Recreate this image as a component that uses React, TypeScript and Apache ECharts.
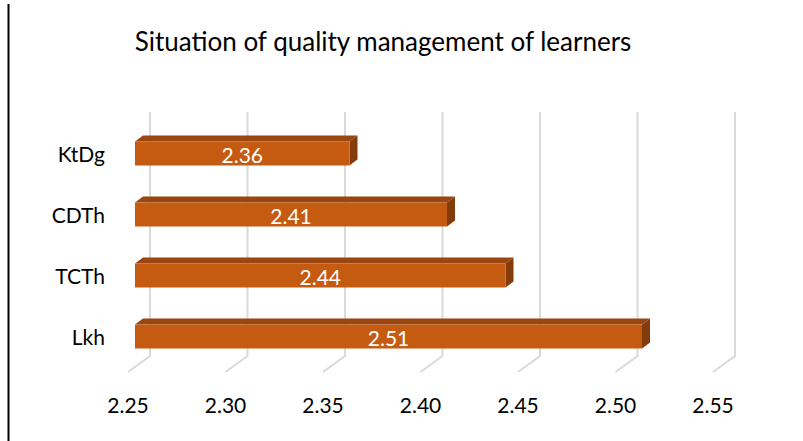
import React, { useEffect, useRef } from "react";
import * as echarts from "echarts";

const TITLE = "Situation of quality management of learners";
const categories = ["KtDg", "CDTh", "TCTh", "Lkh"];
const scores = [2.36, 2.41, 2.44, 2.51];
const axisMin = 2.25;
const axisMax = 2.55;
const axisStep = 0.05;
const tickValues = [2.25, 2.3, 2.35, 2.4, 2.45, 2.5, 2.55];

const FONT = "Lato, 'Open Sans', sans-serif";
const FRONT = "#C55A11";
const TOP = "#9A4611";
const SIDE = "#843C0C";
const GRID = "#D9D9D9";

// oblique 3D offsets (px)
const WALL_DX = 22;
const WALL_DY = -16;
const BAR_DX = 7;
const BAR_DY = 0;
const DEPTH_DX = 8;
const DEPTH_DY = -6;
const BAR_H = 24;

export default function App() {
  const ref = useRef<HTMLDivElement>(null);

  useEffect(() => {
    if (!ref.current) return;
    const chart = echarts.init(ref.current, undefined, { renderer: "svg" });

    const option: any = {
      animation: false,
      backgroundColor: "#ffffff",
      title: {
        text: TITLE,
        left: 378,
        top: 23,
        textAlign: "center",
        textStyle: { fontFamily: FONT, fontSize: 26, fontWeight: "normal", color: "#000" },
      },
      grid: { left: 128, top: 123, width: 585, height: 244, containLabel: false },
      xAxis: {
        type: "value",
        min: axisMin,
        max: axisMax,
        interval: axisStep,
        axisLine: { show: false },
        axisTick: { show: false },
        splitLine: { show: false },
        axisLabel: {
          margin: 27,
          fontFamily: FONT,
          fontSize: 21,
          color: "#000",
          formatter: (v: number) => v.toFixed(2),
        },
      },
      yAxis: {
        type: "category",
        data: categories,
        inverse: true,
        axisLine: { show: false },
        axisTick: { show: false },
        splitLine: { show: false },
        axisLabel: {
          margin: 23,
          fontFamily: FONT,
          fontSize: 21,
          color: "#000",
          padding: [12, 0, 0, 0],
        },
      },
      graphic: [
        {
          type: "line",
          shape: { x1: 8.5, y1: 4, x2: 8.5, y2: 441 },
          style: { stroke: "#000", lineWidth: 2 },
        },
      ],
      series: [
        {
          type: "custom",
          z: 1,
          data: tickValues.map((v) => [v]),
          renderItem: (params: any, api: any) => {
            const cs = params.coordSys;
            const x = api.coord([api.value(0), categories[0]])[0];
            const topY = cs.y - 11;
            const backBottom = cs.y + cs.height + WALL_DY + 5;
            return {
              type: "polyline",
              shape: {
                points: [
                  [x + WALL_DX, topY],
                  [x + WALL_DX, backBottom],
                  [x, backBottom - WALL_DY],
                ],
              },
              style: { stroke: GRID, lineWidth: 2, fill: "none" },
            };
          },
        },
        {
          type: "custom",
          z: 2,
          data: scores.map((v, i) => [v, categories[i]]),
          renderItem: (params: any, api: any) => {
            const v = api.value(0);
            const cat = categories[params.dataIndex];
            const base = api.coord([axisMin, cat]);
            const end = api.coord([v, cat]);
            const x0 = base[0] + BAR_DX;
            const x1 = end[0] + BAR_DX;
            const yc = base[1] + BAR_DY;
            const yt = yc - BAR_H / 2;
            const yb = yc + BAR_H / 2;
            return {
              type: "group",
              children: [
                {
                  type: "polygon",
                  shape: {
                    points: [
                      [x0, yt],
                      [x1, yt],
                      [x1 + DEPTH_DX, yt + DEPTH_DY],
                      [x0 + DEPTH_DX, yt + DEPTH_DY],
                    ],
                  },
                  style: { fill: TOP },
                },
                {
                  type: "polygon",
                  shape: {
                    points: [
                      [x1, yt],
                      [x1 + DEPTH_DX, yt + DEPTH_DY],
                      [x1 + DEPTH_DX, yb + DEPTH_DY],
                      [x1, yb],
                    ],
                  },
                  style: { fill: SIDE },
                },
                {
                  type: "rect",
                  shape: { x: x0, y: yt, width: x1 - x0, height: BAR_H },
                  style: { fill: FRONT },
                },
                {
                  type: "text",
                  x: (x0 + x1) / 2,
                  y: yc + 1,
                  style: {
                    text: v.toFixed(2),
                    fill: "#ffffff",
                    fontFamily: FONT,
                    fontSize: 21,
                    align: "center",
                    verticalAlign: "middle",
                  },
                },
              ],
            };
          },
        },
      ],
    };

    chart.setOption(option);
    return () => chart.dispose();
  }, []);

  return (
    <div
      ref={ref}
      style={{ position: "absolute", left: 0, top: 0, width: 803, height: 441 }}
    />
  );
}
